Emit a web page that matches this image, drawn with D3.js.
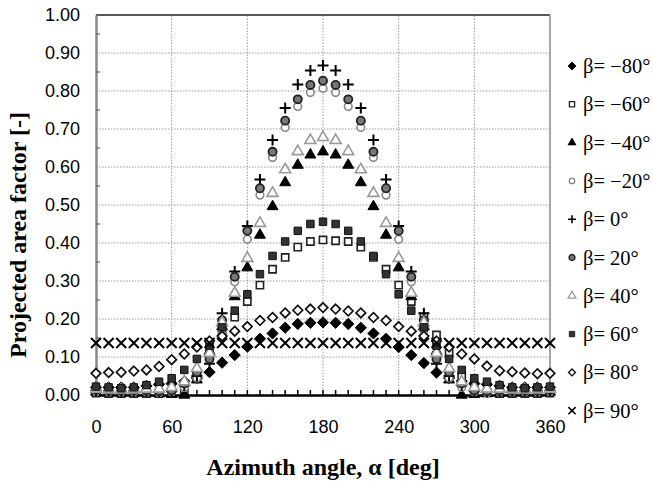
<!DOCTYPE html>
<html>
<head>
<meta charset="utf-8">
<script src="https://cdn.jsdelivr.net/npm/d3@7"></script>
<style>
  body { margin: 0; background: #fff; }
  svg text { fill: #000; }
</style>
</head>
<body>
<svg id="chart" width="653" height="485"></svg>
<script>
// Azimuth angles (deg), one sample every 10 degrees
const azimuth = d3.range(0, 361, 10);
const xTickValues = [0, 60, 120, 180, 240, 300, 360];
const yTickValues = [0, 0.1, 0.2, 0.3, 0.4, 0.5, 0.6, 0.7, 0.8, 0.9, 1.0];

// Projected area factor for each elevation angle beta
const betaM80 = [0.020,0.020,0.020,0.020,0.024,0.028,0.030,0.036,0.045,0.060,0.085,0.105,0.127,0.148,0.162,0.177,0.187,0.190,0.191,
                 0.190,0.187,0.177,0.162,0.148,0.126,0.105,0.084,0.059,0.045,0.036,0.030,0.028,0.024,0.020,0.020,0.020,0.020];
const betaM60 = [0.005,0.004,0.004,0.004,0.004,0.004,0.006,0.012,0.050,0.110,0.158,0.205,0.246,0.289,0.331,0.362,0.389,0.404,0.408,
                 0.406,0.404,0.389,0.362,0.331,0.289,0.246,0.205,0.158,0.110,0.050,0.012,0.006,0.004,0.004,0.004,0.004,0.005];
const betaM40 = [0.008,0.006,0.006,0.006,0.006,0.004,0.002,0.000,0.040,0.115,0.180,0.259,0.335,0.421,0.496,0.559,0.605,0.632,0.640,
                 0.632,0.605,0.559,0.496,0.421,0.335,0.259,0.180,0.115,0.040,0.000,0.002,0.004,0.006,0.006,0.006,0.006,0.008];
const betaM20 = [0.010,0.008,0.008,0.008,0.008,0.006,0.008,0.020,0.045,0.100,0.170,0.298,0.410,0.526,0.625,0.704,0.759,0.796,0.807,
                 0.796,0.759,0.704,0.625,0.526,0.410,0.298,0.170,0.100,0.045,0.020,0.008,0.006,0.008,0.008,0.008,0.008,0.010];
const beta0   = [0.012,0.010,0.010,0.010,0.010,0.008,0.010,0.025,0.050,0.082,0.215,0.325,0.445,0.567,0.671,0.755,0.817,0.854,0.867,
                 0.854,0.817,0.755,0.671,0.567,0.445,0.325,0.215,0.082,0.050,0.025,0.010,0.008,0.010,0.010,0.010,0.010,0.012];
const beta20  = [0.014,0.012,0.012,0.012,0.012,0.010,0.012,0.030,0.060,0.095,0.197,0.311,0.432,0.544,0.640,0.722,0.778,0.816,0.827,
                 0.816,0.778,0.722,0.640,0.544,0.432,0.311,0.197,0.095,0.060,0.030,0.012,0.010,0.012,0.012,0.012,0.012,0.014];
const beta40  = [0.016,0.014,0.014,0.014,0.016,0.016,0.020,0.035,0.070,0.110,0.190,0.268,0.360,0.452,0.531,0.593,0.641,0.670,0.678,
                 0.670,0.641,0.593,0.531,0.452,0.360,0.268,0.190,0.110,0.070,0.035,0.020,0.016,0.016,0.014,0.014,0.014,0.016];
const beta60  = [0.022,0.020,0.018,0.020,0.026,0.035,0.044,0.066,0.095,0.130,0.178,0.222,0.265,0.318,0.366,0.404,0.432,0.450,0.456,
                 0.450,0.432,0.404,0.366,0.318,0.265,0.222,0.178,0.130,0.095,0.066,0.044,0.035,0.026,0.020,0.018,0.020,0.022];
const beta80  = [0.057,0.059,0.060,0.063,0.066,0.075,0.093,0.108,0.126,0.142,0.155,0.168,0.180,0.196,0.204,0.216,0.223,0.226,0.230,
                 0.226,0.221,0.216,0.204,0.196,0.180,0.168,0.155,0.142,0.126,0.108,0.095,0.076,0.064,0.061,0.058,0.056,0.057];
const beta90  = [0.137,0.137,0.137,0.137,0.137,0.137,0.137,0.137,0.137,0.137,0.137,0.137,0.137,0.137,0.137,0.137,0.137,0.137,0.137,
                 0.137,0.137,0.137,0.137,0.137,0.137,0.137,0.137,0.137,0.137,0.137,0.137,0.137,0.137,0.137,0.137,0.137,0.137];

const seriesLabels = ["β= −80°","β= −60°","β= −40°","β= −20°","β= 0°","β= 20°","β= 40°","β= 60°","β= 80°","β= 90°"];
const seriesValues = [betaM80, betaM60, betaM40, betaM20, beta0, beta20, beta40, beta60, beta80, beta90];

// Marker styles, in drawing order (size = half-extent in px, or area for d3 symbols)
const markerStyles = [
  { shape: "diamond",         size: 5.6, fill: "#000", stroke: "#000", sw: 1 },
  { shape: d3.symbolSquare,   size: 52,  fill: "#fff", stroke: "#222", sw: 1.6 },
  { shape: d3.symbolTriangle, size: 52,  fill: "#000", stroke: "#000", sw: 1 },
  { shape: d3.symbolCircle,   size: 46,  fill: "#fff", stroke: "#888", sw: 1.6 },
  { shape: "plus",            size: 5.5, fill: "none", stroke: "#000", sw: 2 },
  { shape: d3.symbolCircle,   size: 52,  fill: "#777", stroke: "#222", sw: 1.8 },
  { shape: d3.symbolTriangle, size: 52,  fill: "#fff", stroke: "#999", sw: 1.6 },
  { shape: d3.symbolSquare,   size: 56,  fill: "#333", stroke: "#111", sw: 1 },
  { shape: "diamond",         size: 4.8, fill: "#fff", stroke: "#111", sw: 1.7 },
  { shape: "cross",           size: 5,   fill: "none", stroke: "#000", sw: 2 }
];

function markerPath(style, k) {
  const h = style.size * k;
  if (style.shape === "plus") return `M${-h},0H${h}M0,${-h}V${h}`;
  if (style.shape === "cross") return `M${-h},${-h}L${h},${h}M${-h},${h}L${h},${-h}`;
  if (style.shape === "diamond") return `M0,${-h}L${h},0L0,${h}L${-h},0Z`;
  return d3.symbol(style.shape, style.size * k * k)();
}

const svg = d3.select("#chart");
const x = d3.scaleLinear().domain([0, 360]).range([96, 550]);
const y = d3.scaleLinear().domain([0, 1]).range([395, 15]);

// Grid
const grid = svg.append("g");
grid.selectAll("line.h").data(yTickValues.filter(v => v > 0 && v < 1)).join("line")
  .attr("x1", x(0)).attr("x2", x(360))
  .attr("y1", d => y(d)).attr("y2", d => y(d))
  .attr("stroke", "#9a9a9a").attr("stroke-width", 1).attr("stroke-dasharray", "1.5,1.5");
grid.selectAll("line.v").data(xTickValues.filter(v => v > 0 && v < 360)).join("line")
  .attr("x1", d => x(d)).attr("x2", d => x(d))
  .attr("y1", y(0)).attr("y2", y(1))
  .attr("stroke", "#9a9a9a").attr("stroke-width", 1).attr("stroke-dasharray", "1.5,1.5");

// Frame: top and right borders
svg.append("line").attr("x1", x(0)).attr("x2", x(360)).attr("y1", y(1)).attr("y2", y(1))
  .attr("stroke", "#222").attr("stroke-width", 1.5);
svg.append("line").attr("x1", x(360)).attr("x2", x(360)).attr("y1", y(1)).attr("y2", y(0))
  .attr("stroke", "#888").attr("stroke-width", 1.5);

// Y axis
const yAxis = svg.append("g").attr("transform", `translate(${x(0)},0)`)
  .call(d3.axisLeft(y).tickValues(yTickValues).tickFormat(d3.format(".2f")).tickSize(0).tickPadding(16));
yAxis.select(".domain").attr("stroke", "#888").attr("stroke-width", 2.5);
yAxis.selectAll("text").attr("font-family", "Liberation Sans, Arial, sans-serif").attr("font-size", 18);
// minor ticks inside the plot
svg.append("g").selectAll("line").data(d3.range(0.05, 1, 0.1)).join("line")
  .attr("x1", x(0)).attr("x2", x(0) + 4).attr("y1", d => y(d)).attr("y2", d => y(d))
  .attr("stroke", "#666").attr("stroke-width", 1.2);

// X axis
const xAxis = svg.append("g").attr("transform", `translate(0,${y(0)})`)
  .call(d3.axisBottom(x).tickValues(xTickValues).tickSize(0).tickPadding(25));
xAxis.select(".domain").attr("stroke", "#000").attr("stroke-width", 2.5);
xAxis.selectAll("text").attr("font-family", "Liberation Sans, Arial, sans-serif").attr("font-size", 18);
// small inner ticks every 10 degrees
svg.append("g").selectAll("line").data(azimuth).join("line")
  .attr("x1", d => x(d)).attr("x2", d => x(d)).attr("y1", y(0)).attr("y2", y(0) - 5)
  .attr("stroke", "#000").attr("stroke-width", 1.5);

// Data markers
const marks = svg.append("g");
seriesValues.forEach((vals, i) => {
  const st = markerStyles[i];
  marks.append("g").selectAll("path").data(vals.map((v, j) => [azimuth[j], v])).join("path")
    .attr("transform", d => `translate(${x(d[0])},${y(d[1])})`)
    .attr("d", markerPath(st, 1))
    .attr("fill", st.fill).attr("stroke", st.stroke).attr("stroke-width", st.sw);
});

// Legend
const legend = svg.append("g");
seriesLabels.forEach((lab, i) => {
  const st = markerStyles[i];
  const ly = 66 + i * 38.3;
  legend.append("path").attr("transform", `translate(572,${ly})`)
    .attr("d", markerPath(st, 0.72))
    .attr("fill", st.fill).attr("stroke", st.stroke).attr("stroke-width", st.sw * 0.8);
  legend.append("text").attr("x", 583).attr("y", ly + 7)
    .attr("font-family", "Liberation Serif, Times New Roman, serif").attr("font-size", 20.5)
    .text(lab);
});

// Axis titles
svg.append("text").attr("x", x(180)).attr("y", 475).attr("text-anchor", "middle")
  .attr("font-family", "Liberation Serif, Times New Roman, serif").attr("font-weight", "bold").attr("font-size", 24)
  .text("Azimuth angle, α [deg]");
svg.append("text").attr("transform", "translate(26,235) rotate(-90)").attr("text-anchor", "middle")
  .attr("font-family", "Liberation Serif, Times New Roman, serif").attr("font-weight", "bold").attr("font-size", 24)
  .text("Projected area factor [-]");
</script>
</body>
</html>
